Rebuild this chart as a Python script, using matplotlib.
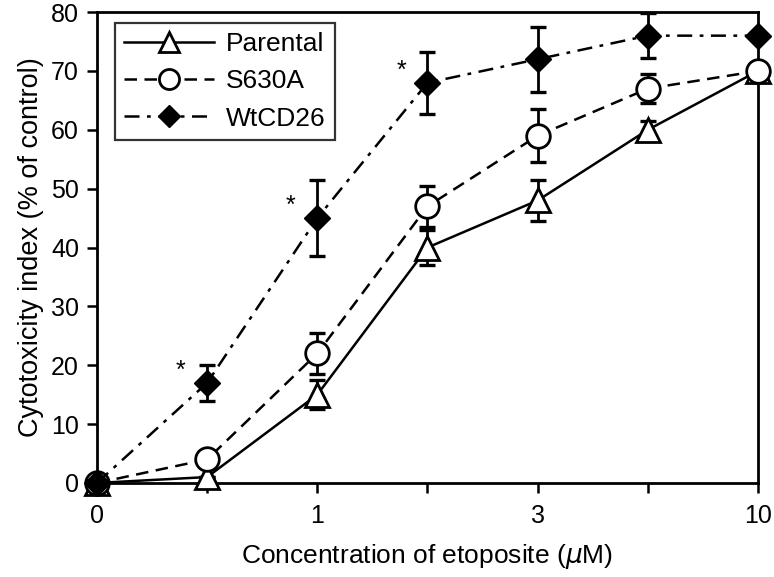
import matplotlib
matplotlib.use("Agg")
import matplotlib.pyplot as plt

# concentration steps (evenly spaced on the axis), labels only on some
conc_pos = [0, 1, 2, 3, 4, 5, 6]
tick_labels = ["0", "", "1", "", "3", "", "10"]

parental = [0, 1, 15, 40, 48, 60, 70]
parental_err = [0, 0, 2.5, 3, 3.5, 1.5, 0]
s630a = [0, 4, 22, 47, 59, 67, 70]
s630a_err = [0, 0, 3.5, 3.5, 4.5, 2.5, 0]
wtcd26 = [0, 17, 45, 68, 72, 76, 76]
wtcd26_err = [0, 3, 6.5, 5.3, 5.5, 3.8, 0]

star_idx = [1, 2, 3]

plt.rcParams['font.family'] = ['Liberation Sans', 'DejaVu Sans']

fig = plt.figure(figsize=(7.74, 5.77), dpi=100)
ax = fig.add_axes([0.1253, 0.163, 0.8540, 0.816])

lw = 1.8
err_kw = dict(fmt="none", ecolor="black", capsize=6, capthick=2.4, elinewidth=2,
              clip_on=False, zorder=2)

ax.errorbar(conc_pos, parental, yerr=parental_err, **err_kw)
ax.errorbar(conc_pos, s630a, yerr=s630a_err, **err_kw)
ax.errorbar(conc_pos, wtcd26, yerr=wtcd26_err, **err_kw)

ax.plot(conc_pos, parental, "-", color="black", lw=lw, marker="^", ms=17,
        mfc="white", mec="black", mew=2, clip_on=False, zorder=3, label="Parental")
ax.plot(conc_pos, s630a, "--", color="black", lw=lw, marker="o", ms=17,
        mfc="white", mec="black", mew=2, dashes=(5, 3), clip_on=False, zorder=3,
        label="S630A")
ax.plot(conc_pos, wtcd26, "-.", color="black", lw=lw, marker="D", ms=13,
        mfc="black", mec="black", mew=1, dashes=(6, 3, 1.5, 3), clip_on=False,
        zorder=3, label="WtCD26")

for i in star_idx:
    ax.text(conc_pos[i] - 0.24, wtcd26[i] + 2, "*", fontsize=18,
            ha="center", va="center")

ax.set_xlim(0, 6)
ax.set_ylim(0, 80)
ax.set_xticks(conc_pos)
ax.set_xticklabels(tick_labels)
ax.set_yticks(range(0, 81, 10))

for s in ["top", "right", "left", "bottom"]:
    ax.spines[s].set_linewidth(2)
ax.tick_params(direction="out", length=7, width=1.8, labelsize=18)
ax.tick_params(axis="x", pad=8)
ax.tick_params(axis="y", pad=6)

ax.set_ylabel("Cytotoxicity index (% of control)", fontsize=19.5, labelpad=5)
ax.set_xlabel(r"Concentration of etoposite ($\mu$M)", fontsize=19, labelpad=10)

leg = ax.legend(loc="upper left", bbox_to_anchor=(0.027, 0.977), fontsize=19,
                frameon=True, fancybox=False, edgecolor="black", handlelength=3.4,
                borderpad=0.35, labelspacing=0.5, handletextpad=0.45,
                borderaxespad=0, markerscale=0.85)
leg.get_frame().set_linewidth(1.6)

fig.savefig("out.png", dpi=100)
